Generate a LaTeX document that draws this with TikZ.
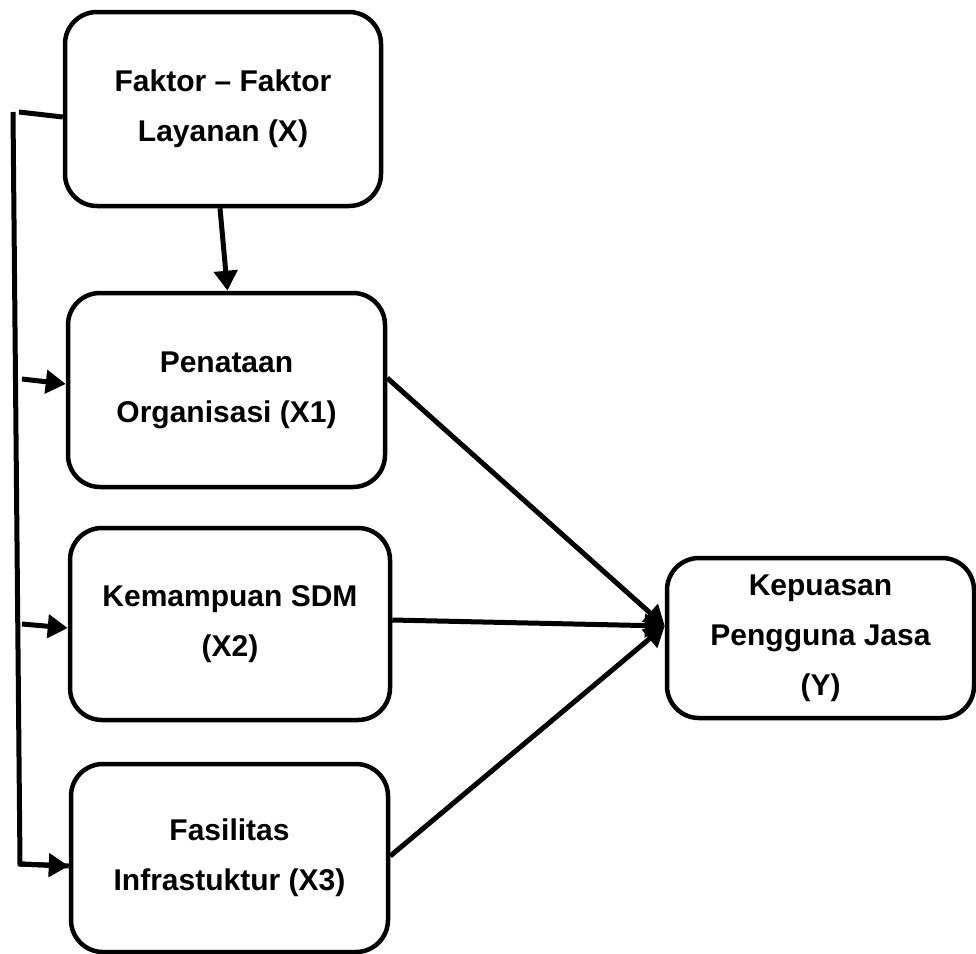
\documentclass[tikz,border=0pt]{standalone}
\usepackage{fontspec}
\setmainfont{Liberation Sans}
\usetikzlibrary{arrows.meta,calc}
\begin{document}
\begin{tikzpicture}[x=1pt,y=-1pt,
  box/.style={draw,line width=4.5pt,rounded corners=32pt,align=center,inner sep=0pt,
    font=\fontsize{30}{50}\selectfont\bfseries},
  conn/.style={line width=5pt},
  arr/.style={conn,-{Triangle[length=20pt 0 0,width=23pt 0 0]}}]
\useasboundingbox (0,0) rectangle (976,953);
\node[box,minimum width=316pt,minimum height=194pt] (X) at (223,109) {Faktor -- Faktor\\Layanan (X)};
\node[box,minimum width=317pt,minimum height=194pt] (X1) at (226.5,390) {Penataan\\Organisasi (X1)};
\node[box,minimum width=320pt,minimum height=192pt] (X2) at (230,624) {Kemampuan SDM\\(X2)};
\node[box,minimum width=317pt,minimum height=188pt] (X3) at (229.5,858) {Fasilitas\\Infrastuktur (X3)};
\node[box,minimum width=307pt,minimum height=160pt] (Y) at (820.5,638) {\rule{0pt}{6pt}Kepuasan\\Pengguna Jasa\\(Y)};
% left bracket
\coordinate (top) at (13,112);
\coordinate (corner) at (20,864);
\coordinate (tick) at (19,112);
\draw[conn] (top) -- (corner) -- ([yshift=-8pt]X3.west) ;
\draw[arr] (corner) -- ([yshift=-8pt]X3.west);
\draw[conn] (tick) -- ([yshift=-8pt]X.west);
\coordinate (l1) at (22,379);
\coordinate (l2) at (22,624);
\draw[arr] (l1) -- ([yshift=6pt]X1.west);
\draw[arr] (l2) -- ([yshift=-4pt]X2.west);
% top down arrow
\draw[arr] ([xshift=-3pt]X.south) -- ([xshift=1pt]X1.north);
% converging arrows
\coordinate (m) at ([yshift=12pt]Y.west);
\draw[arr] ([yshift=12pt]X1.east) -- (m);
\draw[arr] ([yshift=4pt]X2.east) -- (m);
\draw[arr] ([yshift=2pt]X3.east) -- (m);
\end{tikzpicture}
\end{document}
